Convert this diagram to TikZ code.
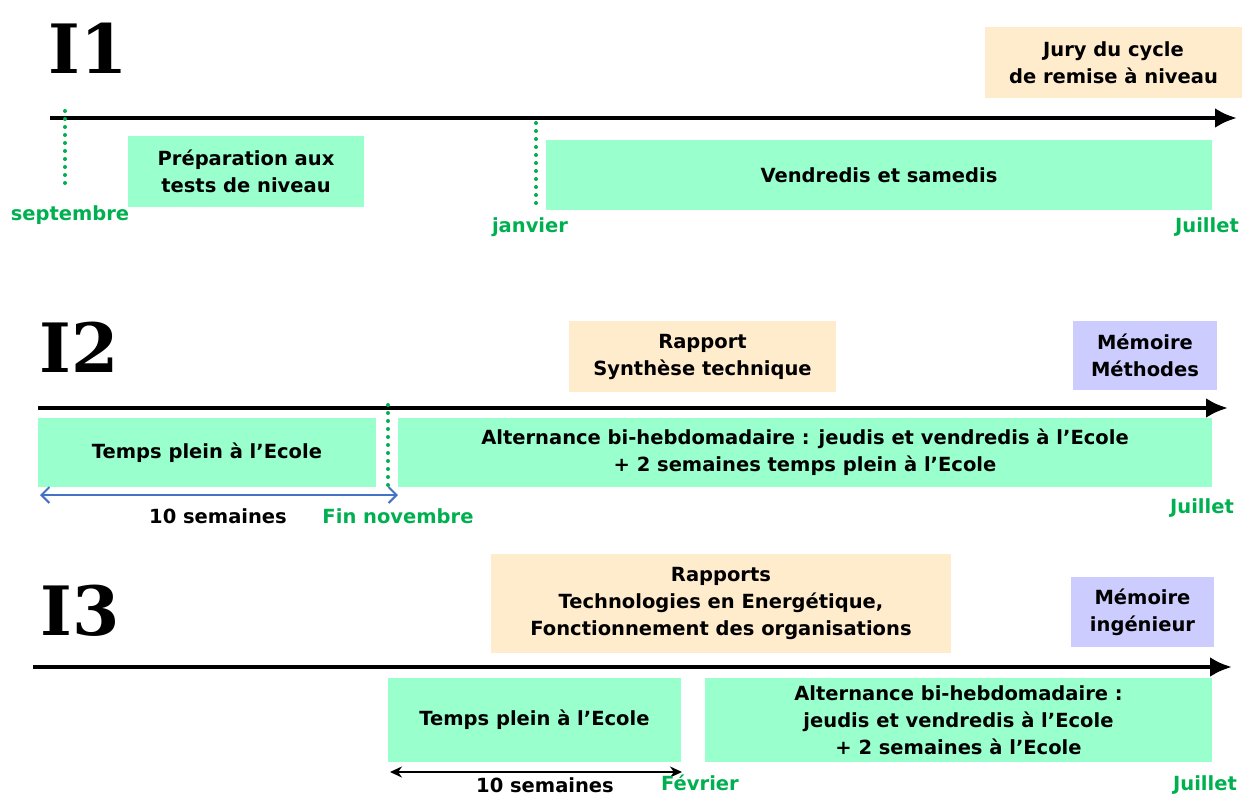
\documentclass[tikz,border=0pt]{standalone}
\usepackage{fontspec}
\setmainfont{DejaVu Sans}
\newfontfamily\yearfont{DejaVu Serif}
\usetikzlibrary{arrows.meta}
\definecolor{phasegreen}{RGB}{153,255,204}
\definecolor{monthgreen}{RGB}{0,176,80}
\definecolor{reportorange}{RGB}{255,236,204}
\definecolor{memoirblue}{RGB}{204,204,255}
\definecolor{weekblue}{RGB}{68,114,196}
\begin{document}
\begin{tikzpicture}[x=1pt, y=-1pt,
box/.style={rectangle, align=center, inner sep=0pt, font=\fontsize{19.5}{27}\selectfont\bfseries},
phase/.style={box, fill=phasegreen},
report/.style={box, fill=reportorange},
memoir/.style={box, fill=memoirblue},
month/.style={inner sep=0pt, text=monthgreen, font=\fontsize{19.5}{22}\selectfont\bfseries},
weeks/.style={inner sep=0pt, font=\fontsize{19.5}{22}\selectfont\bfseries},
year/.style={inner sep=0pt, font=\yearfont\fontsize{68}{68}\selectfont\bfseries},
axis/.style={line width=4.5pt, -{Latex[length=22pt, width=20pt]}},
tick/.style={draw=monthgreen, line width=4pt, line cap=round, dash pattern=on 0pt off 8pt},
]
\useasboundingbox (0,0) rectangle (1245,795);

% I1
\node[year] (i1) at (88,48) {I1};
\node[report, minimum width=257pt, minimum height=71pt] (jury) at (1113.5,62.5) {Jury du cycle\\de remise à niveau};
\coordinate (a1s) at (50,118);
\coordinate (a1e) at (1237,118);
\draw[axis] (a1s) -- (a1e);
\node[phase, minimum width=236pt, minimum height=71pt] (prep) at (246,171.5) {Préparation aux\\tests de niveau};
\node[phase, minimum width=666pt, minimum height=70pt] (vend) at (879,175) {Vendredis et samedis};
\coordinate (septtop) at (65,111);
\coordinate (septbot) at (65,190);
\draw[tick] (septtop) -- (septbot);
\node[month] (sept) at (70,215) {septembre};
\coordinate (jantop) at (536,123);
\coordinate (janbot) at (536,203);
\draw[tick] (jantop) -- (janbot);
\node[month] (jan) at (530,227) {janvier};
\node[month] (juil1) at (1207,227) {Juillet};

% I2
\node[year] (i2) at (79,347) {I2};
\node[report, minimum width=267pt, minimum height=71pt] (synth) at (702.5,356.5) {Rapport\\Synthèse technique};
\node[memoir, minimum width=144pt, minimum height=69pt] (meth) at (1145,355.5) {Mémoire\\Méthodes};
\coordinate (a2s) at (38,408);
\coordinate (a2e) at (1228,408);
\draw[axis] (a2s) -- (a2e);
\node[phase, minimum width=338pt, minimum height=69pt] (plein2) at (207,452.5) {Temps plein à l’Ecole};
\node[phase, minimum width=814pt, minimum height=69pt] (alt2) at (805,452.5) {Alternance bi-hebdomadaire : jeudis et vendredis à l’Ecole\\+ 2 semaines temps plein à l’Ecole};
\coordinate (novtop) at (388,405);
\coordinate (novbot) at (388,488);
\draw[tick] (novtop) -- (novbot);
\coordinate (w2s) at (40,495);
\coordinate (w2e) at (398,495);
\draw[weekblue, line width=2pt, {Straight Barb[length=8pt, width=16pt]}-{Straight Barb[length=8pt, width=16pt]}] (w2s) -- (w2e);
\node[weeks] (sem2) at (218,516) {10 semaines};
\node[month] (nov) at (398,516) {Fin novembre};
\node[month] (juil2) at (1202,508) {Juillet};

% I3
\node[year] (i3) at (80,611) {I3};
\node[report, minimum width=460pt, minimum height=99pt] (techno) at (721,603.5) {Rapports\\Technologies en Energétique,\\Fonctionnement des organisations};
\node[memoir, minimum width=143pt, minimum height=70pt] (inge) at (1142.5,612) {Mémoire\\ingénieur};
\coordinate (a3s) at (33,667);
\coordinate (a3e) at (1232,667);
\draw[axis] (a3s) -- (a3e);
\node[phase, minimum width=293pt, minimum height=84pt] (plein3) at (534.5,720) {Temps plein à l’Ecole};
\node[phase, minimum width=507pt, minimum height=84pt] (alt3) at (958.5,720) {Alternance bi-hebdomadaire :\\jeudis et vendredis à l’Ecole\\+ 2 semaines à l’Ecole};
\coordinate (w3s) at (390,772);
\coordinate (w3e) at (682,772);
\draw[line width=2pt, {Stealth[length=12pt, width=11pt]}-{Stealth[length=12pt, width=11pt]}] (w3s) -- (w3e);
\node[weeks] (sem3) at (545,785) {10 semaines};
\node[month] (fev) at (700,783) {Février};
\node[month] (juil3) at (1205,785) {Juillet};
\end{tikzpicture}
\end{document}
